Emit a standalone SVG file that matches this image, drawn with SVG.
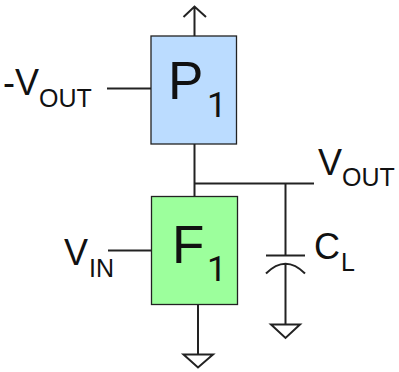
<svg xmlns="http://www.w3.org/2000/svg" width="399" height="372" viewBox="0 0 399 372">
<style>
text{font-family:"Liberation Sans",Arial,sans-serif;fill:#111}
.w{fill:none;stroke:#222;stroke-width:2}
.b{stroke:#222;stroke-width:1.300}
.big{font-size:53px}
text.sub{font-family:Roboto,"Liberation Sans",sans-serif;font-size:35px}
.v{font-size:36px}
.s{font-size:25px}
</style>
<rect width="399" height="372" fill="#fff"/>
<g id="connectors">
<path class="w" d="M194.500 36V6M183.500 17L194.500 6.500L206 17"/>
<path class="w" d="M107 88.500H151"/>
<path class="w" d="M194.500 144V196"/>
<path class="w" d="M194.500 183.500H314"/>
<path class="w" d="M285.500 183.500V255M266 255.500H305"/>
<path class="w" d="M266 273.500Q285.500 254 305 273.500M285.500 263V324"/>
<path class="w" d="M271 324.500H300L285.500 338Z"/>
<path class="w" d="M108 250.500H151"/>
<path class="w" d="M198 304V354"/>
<path class="w" d="M183.500 354.500H213L198 367.500Z"/>
</g>
<g id="P1">
<rect class="b" x="151" y="36" width="85.500" height="108" fill="#bbdcff"/>
<text class="big" x="168" y="99">P</text>
<text class="sub" x="207" y="117">1</text>
</g>
<g id="F1">
<rect class="b" x="151.500" y="196.500" width="86" height="108" fill="#9cff9c"/>
<text class="big" x="172" y="263">F</text>
<text class="sub" x="207" y="281">1</text>
</g>
<g id="label-vout-neg">
<text class="v" x="3" y="95">-V</text>
<text class="s" x="39" y="107">OUT</text>
</g>
<g id="label-vout">
<text class="v" x="318" y="175">V</text>
<text class="s" x="342" y="186">OUT</text>
</g>
<g id="label-vin">
<text class="v" x="64" y="265">V</text>
<text class="s" x="89" y="277">IN</text>
</g>
<g id="label-cl">
<text class="v" x="314" y="259">C</text>
<text class="s" x="341" y="271">L</text>
</g>
</svg>
